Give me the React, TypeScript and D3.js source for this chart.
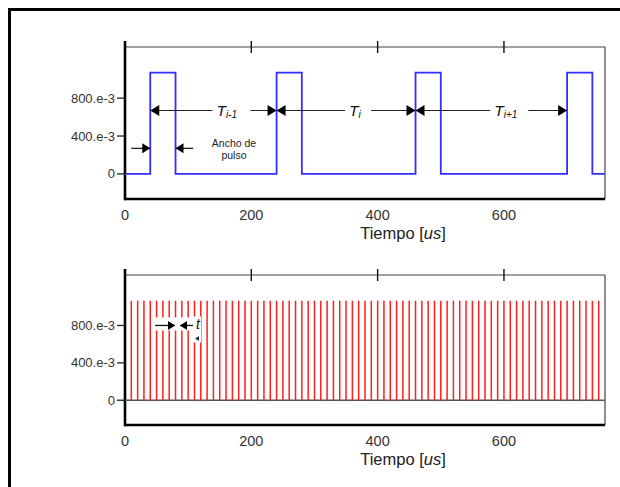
import * as d3 from "d3";
import React from "react";

// square pulse train (top panel), step values hold until next time
const waveTimes = [0, 40, 80, 240, 280, 460, 500, 700, 740, 760];
const waveLevels = [0, 1.07, 0, 1.07, 0, 1.07, 0, 1.07, 0, 0];

// narrow spikes (bottom panel)
const spikeTimes = [
  10, 20, 30, 40, 50, 60, 70, 80, 90, 100, 110, 120, 130, 140, 150, 160, 170, 180, 190, 200,
  210, 220, 230, 240, 250, 260, 270, 280, 290, 300, 310, 320, 330, 340, 350, 360, 370, 380, 390, 400,
  410, 420, 430, 440, 450, 460, 470, 480, 490, 500, 510, 520, 530, 540, 550, 560, 570, 580, 590, 600,
  610, 620, 630, 640, 650, 660, 670, 680, 690, 700, 710, 720, 730, 740, 750,
];
const spikeHeight = 1.065;

const xTicks = [0, 200, 400, 600];
const yTicks = [0, 0.4, 0.8];
const yTickLabels = ["0", "400.e-3", "800.e-3"];

const periodSubs = ["i-1", "i", "i+1"];
const periodFrom = [40, 240, 460];
const periodTo = [240, 460, 700];
const periodLevel = 0.67;

const widthLevel = 0.27;
const xLabel = "Tiempo";

const font = "'Liberation Sans', Arial, sans-serif";
const x = d3.scaleLinear().domain([0, 760]).range([125, 605]);
const yDomain = [-0.265, 1.34];
const yTop = d3.scaleLinear().domain(yDomain).range([199, 47]);
const yBot = d3.scaleLinear().domain(yDomain).range([425, 275]);

const arrowHead = (tipX: number, y: number, dir: number, len = 8, half = 4.5) =>
  `M${tipX},${y}L${tipX - dir * len},${y - half}L${tipX - dir * len},${y + half}Z`;

const Frame = ({ y }: { y: d3.ScaleLinear<number, number> }) => {
  const [x0, x1] = x.range();
  const [yb, yt] = y.range();
  return (
    <g>
      <line x1={x0} x2={x1} y1={yt} y2={yt} stroke="#444" strokeWidth={1.2} />
      <line x1={x1} x2={x1} y1={yt} y2={yb} stroke="#444" strokeWidth={1.2} />
      {xTicks.map((t) => (
        <line key={t} x1={x(t)} x2={x(t)} y1={yt - 6} y2={yt + 6} stroke="#111" strokeWidth={1.4} />
      ))}
      {yTicks.map((v, i) => (
        <g key={v}>
          <line x1={x0 - 8} x2={x0} y1={y(v)} y2={y(v)} stroke="#222" strokeWidth={1.3} />
          <text x={x0 - 10} y={y(v)} dy="0.35em" textAnchor="end" fontSize={13} fill="#333" fontFamily={font}>
            {yTickLabels[i]}
          </text>
        </g>
      ))}
      <line x1={x0} x2={x1} y1={yb} y2={yb} stroke="#000" strokeWidth={2.6} />
      <line x1={x0} x2={x0} y1={yt - 6} y2={yb + 1.3} stroke="#000" strokeWidth={2.6} />
      {xTicks.map((t) => (
        <text key={t} x={x(t)} y={yb + 21} textAnchor="middle" fontSize={14.5} fill="#333" fontFamily={font}>
          {t}
        </text>
      ))}
      <text x={403} y={yb + 40} textAnchor="middle" fontSize={16.5} fill="#222" fontFamily={font}>
        {xLabel} [<tspan fontStyle="italic">us</tspan>]
      </text>
    </g>
  );
};

export default function App() {
  const wave = d3
    .line<number>()
    .x((t) => x(t))
    .y((_, i) => yTop(waveLevels[i]))
    .curve(d3.curveStepAfter)(waveTimes);

  const py = yTop(periodLevel);
  const wy = yTop(widthLevel);
  const ay = yBot(0.8);

  return (
    <svg width={620} height={487} style={{ position: "absolute", left: 0, top: 0, background: "#fff" }}>
      <rect x={9.5} y={9.5} width={700} height={600} fill="none" stroke="#000" strokeWidth={3} />

      {/* top panel */}
      <Frame y={yTop} />
      <path d={wave ?? ""} fill="none" stroke="#2f2fff" strokeWidth={1.8} />

      {periodSubs.map((s, i) => {
        const a = x(periodFrom[i]);
        const b = x(periodTo[i]);
        const lx = (a + b) / 2 + 3;
        return (
          <g key={s}>
            <line x1={a} x2={b} y1={py} y2={py} stroke="#222" strokeWidth={1.1} />
            <rect x={lx - 4} y={py - 8} width={s.length * 6 + 20} height={16} fill="#fff" />
            <path d={arrowHead(a, py, -1, 9, 5.5)} fill="#000" />
            <path d={arrowHead(b, py, 1, 9, 5.5)} fill="#000" />
            <text x={lx} y={py + 5.5} fontSize={15.5} fontStyle="italic" fill="#111" fontFamily={font}>
              T
              <tspan fontSize={10} dy={2}>
                {s}
              </tspan>
            </text>
          </g>
        );
      })}

      <line x1={x(10)} x2={x(40)} y1={wy} y2={wy} stroke="#111" strokeWidth={1.2} />
      <path d={arrowHead(x(40), wy, 1, 8, 5)} fill="#000" />
      <line x1={x(80)} x2={x(108)} y1={wy} y2={wy} stroke="#111" strokeWidth={1.2} />
      <path d={arrowHead(x(80), wy, -1, 8, 5)} fill="#000" />
      <text x={234} y={147} textAnchor="middle" fontSize={10.5} fill="#222" fontFamily={font}>
        Ancho de
      </text>
      <text x={234} y={159} textAnchor="middle" fontSize={10.5} fill="#222" fontFamily={font}>
        pulso
      </text>

      {/* bottom panel */}
      <Frame y={yBot} />
      <line x1={x(0)} x2={x(760)} y1={yBot(0)} y2={yBot(0)} stroke="#555" strokeWidth={1.5} />
      {spikeTimes.map((t) => (
        <line key={t} x1={x(t)} x2={x(t)} y1={yBot(0)} y2={yBot(spikeHeight)} stroke="#ff1f1f" strokeWidth={1.5} />
      ))}
      <rect x={152} y={ay - 8} width={40} height={13} fill="#fff" />
      <rect x={192} y={ay - 9} width={9} height={26} fill="#fff" />
      <line x1={155} x2={175} y1={ay} y2={ay} stroke="#111" strokeWidth={1.3} />
      <path d={arrowHead(175, ay, 1, 7, 4.5)} fill="#000" />
      <line x1={180} x2={193} y1={ay} y2={ay} stroke="#111" strokeWidth={1.3} />
      <path d={arrowHead(180, ay, -1, 7, 4.5)} fill="#000" />
      <text x={198} y={ay + 3.5} textAnchor="middle" fontSize={14} fontStyle="italic" fill="#111" fontFamily={font}>
        t
      </text>
      <path d={arrowHead(195, ay + 13, -1, 4, 2.5)} fill="#333" />
    </svg>
  );
}
